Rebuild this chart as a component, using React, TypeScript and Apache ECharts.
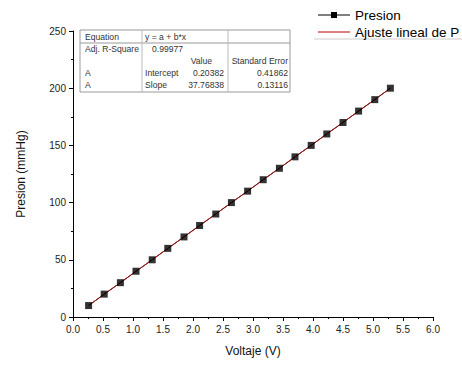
import React, { useEffect, useRef } from "react";
import * as echarts from "echarts";

const voltage = [0.26, 0.52, 0.79, 1.05, 1.32, 1.58, 1.85, 2.11, 2.38, 2.64, 2.91, 3.17, 3.44, 3.7, 3.97, 4.23, 4.5, 4.76, 5.03, 5.29];
const presion = [10, 20, 30, 40, 50, 60, 70, 80, 90, 100, 110, 120, 130, 140, 150, 160, 170, 180, 190, 200];
const fitX = [0.26, 5.29];
const fitY = [10.02, 200.0];

const tableRows = [
  ["Equation", "y = a + b*x", "", ""],
  ["Adj. R-Square", "0.99977", "", ""],
  ["", "", "Value", "Standard Error"],
  ["A", "Intercept", "0.20382", "0.41862"],
  ["A", "Slope", "37.76838", "0.13116"],
];

const seriesNames = ["Presion", "Ajuste lineal de P"];

export default function App() {
  const ref = useRef<HTMLDivElement>(null);
  useEffect(() => {
    if (!ref.current) return;
    const chart = echarts.init(ref.current, null, { renderer: "svg" });
    const font = "Arial, 'Liberation Sans', sans-serif";
    const tFont = { fontFamily: font, fontSize: 8.6, fill: "#333" };
    const rowY = [37, 49, 61, 73, 85];
    const table: any[] = [];
    table.push({ type: "rect", shape: { x: 80, y: 30, width: 210, height: 62 }, style: { fill: "#fff", stroke: "#999", lineWidth: 1 }, z: 10 });
    table.push({ type: "line", shape: { x1: 80, y1: 43, x2: 290, y2: 43 }, style: { stroke: "#999", lineWidth: 1 }, z: 11 });
    table.push({ type: "line", shape: { x1: 142, y1: 30, x2: 142, y2: 92 }, style: { stroke: "#bbb", lineWidth: 1 }, z: 11 });
    table.push({ type: "line", shape: { x1: 228, y1: 30, x2: 228, y2: 92 }, style: { stroke: "#bbb", lineWidth: 1 }, z: 11 });
    tableRows.forEach((row, i) => {
      const y = rowY[i];
      if (row[0]) table.push({ type: "text", x: 85, y, style: { ...tFont, text: row[0], verticalAlign: "middle" }, z: 12 });
      if (i === 1) table.push({ type: "text", x: 152, y, style: { ...tFont, text: row[1], verticalAlign: "middle" }, z: 12 });
      else if (row[1]) table.push({ type: "text", x: 145, y, style: { ...tFont, text: row[1], verticalAlign: "middle" }, z: 12 });
      if (row[2]) table.push({ type: "text", x: i === 2 ? 212 : 224, y, style: { ...tFont, text: row[2], align: "right", verticalAlign: "middle" }, z: 12 });
      if (row[3]) table.push({ type: "text", x: 288, y, style: { ...tFont, text: row[3], align: "right", verticalAlign: "middle" }, z: 12 });
    });
    const legend: any[] = [
      { type: "line", shape: { x1: 314, y1: 39, x2: 462, y2: 39 }, style: { stroke: "#ccc", lineWidth: 1 } },
      { type: "line", shape: { x1: 318, y1: 15, x2: 350, y2: 15 }, style: { stroke: "#000", lineWidth: 1 } },
      { type: "rect", shape: { x: 331, y: 12, width: 6, height: 6 }, style: { fill: "#000" } },
      { type: "text", x: 355, y: 15, style: { text: seriesNames[0], fontFamily: font, fontSize: 13.5, fill: "#000", verticalAlign: "middle" } },
      { type: "line", shape: { x1: 318, y1: 32, x2: 350, y2: 32 }, style: { stroke: "#c00000", lineWidth: 1 } },
      { type: "text", x: 355, y: 32, style: { text: seriesNames[1], fontFamily: font, fontSize: 13.5, fill: "#000", verticalAlign: "middle" } },
    ];
    chart.setOption({
      animation: false,
      backgroundColor: "#fff",
      grid: { left: 73, right: 29, top: 31, bottom: 49, containLabel: false },
      xAxis: {
        type: "value", min: 0, max: 6, interval: 0.5,
        name: "Voltaje (V)", nameLocation: "middle", nameGap: 28,
        nameTextStyle: { fontFamily: font, fontSize: 12, color: "#111" },
        axisLine: { lineStyle: { color: "#000", width: 1 } },
        axisTick: { show: true, length: 4, lineStyle: { color: "#000" } },
        minorTick: { show: true, splitNumber: 2, length: 2, lineStyle: { color: "#000" } },
        axisLabel: { fontFamily: font, fontSize: 10, color: "#222", margin: 7, formatter: (v: number) => v.toFixed(1) },
        splitLine: { show: false },
      },
      yAxis: {
        type: "value", min: 0, max: 250, interval: 50,
        name: "Presion (mmHg)", nameLocation: "middle", nameGap: 46,
        nameTextStyle: { fontFamily: font, fontSize: 12, color: "#111" },
        axisLine: { show: true, lineStyle: { color: "#000", width: 1 } },
        axisTick: { show: true, length: 4, lineStyle: { color: "#000" } },
        minorTick: { show: true, splitNumber: 2, length: 2, lineStyle: { color: "#000" } },
        axisLabel: { fontFamily: font, fontSize: 10, color: "#222", margin: 7 },
        splitLine: { show: false },
      },
      series: [
        {
          name: seriesNames[0] + " line", type: "line", symbol: "none",
          data: voltage.map((v, i) => [v, presion[i]]),
          lineStyle: { color: "#000", width: 1 }, z: 2,
        },
        {
          name: seriesNames[1], type: "line", symbol: "none",
          data: fitX.map((v, i) => [v, fitY[i]]),
          lineStyle: { color: "#b01010", width: 1 }, z: 3,
        },
        {
          name: seriesNames[0], type: "scatter", symbol: "rect", symbolSize: 7,
          data: voltage.map((v, i) => [v, presion[i]]),
          itemStyle: { color: "#000" }, z: 4,
        },
      ],
      graphic: [...table, ...legend],
    });
    return () => chart.dispose();
  }, []);
  return <div ref={ref} style={{ width: 462, height: 366, position: "absolute", left: 0, top: 0 }} />;
}
